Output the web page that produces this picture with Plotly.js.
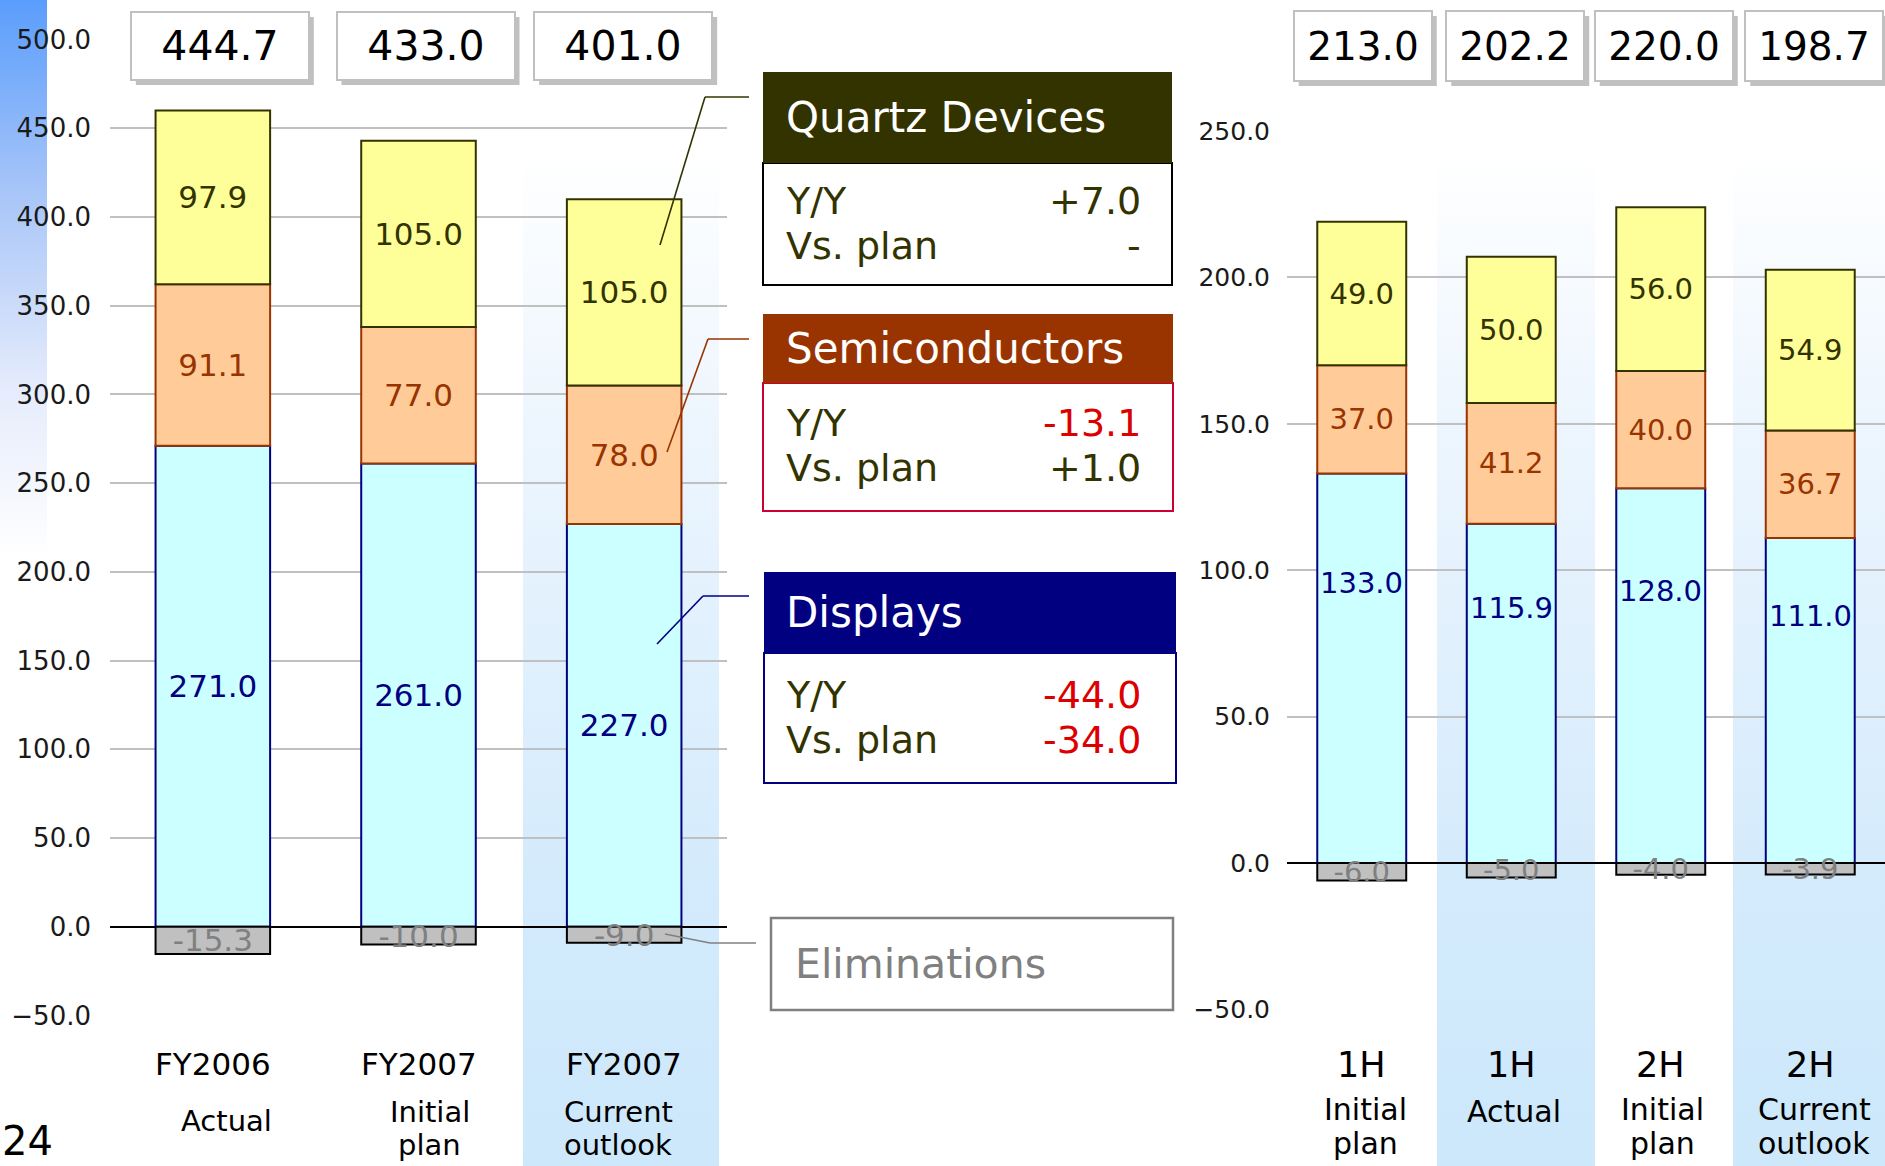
<!DOCTYPE html>
<html>
<head>
<meta charset="utf-8">
<script src="https://cdn.plot.ly/plotly-3.0.1.min.js"></script>
<style>html,body{margin:0;padding:0;background:#fff;}#chart{width:1885px;height:1166px;}</style>
</head>
<body>
<div id="chart"></div>
<script>
// ---------- data ----------
const leftCats = ['FY2006 Actual', 'FY2007 Initial plan', 'FY2007 Current outlook'];
const leftTop = ['FY2006', 'FY2007', 'FY2007'];
const leftSub = ['Actual', 'Initial<br>plan', 'Current<br>outlook'];
const leftDisplays = [271.0, 261.0, 227.0];
const leftSemis = [91.1, 77.0, 78.0];
const leftQuartz = [97.9, 105.0, 105.0];
const leftElim = [-15.3, -10.0, -9.0];
const leftTotals = [444.7, 433.0, 401.0];

const rightCats = ['1H Initial plan', '1H Actual', '2H Initial plan', '2H Current outlook'];
const rightTop = ['1H', '1H', '2H', '2H'];
const rightSub = ['Initial<br>plan', 'Actual', 'Initial<br>plan', 'Current<br>outlook'];
const rightDisplays = [133.0, 115.9, 128.0, 111.0];
const rightSemis = [37.0, 41.2, 40.0, 36.7];
const rightQuartz = [49.0, 50.0, 56.0, 54.9];
const rightElim = [-6.0, -5.0, -4.0, -3.9];
const rightTotals = [213.0, 202.2, 220.0, 198.7];

const panelNames = ['Quartz Devices', 'Semiconductors', 'Displays'];
const panelYoY = ['+7.0', '-13.1', '-44.0'];
const panelVsPlan = ['-', '+1.0', '-34.0'];
const rowLabels = ['Y/Y', 'Vs. plan'];
const elimLabel = 'Eliminations';
const pageNumber = '24';

// ---------- styling ----------
const W = 1885, H = 1166;
const X = p => p / W;
const Y = p => 1 - p / H;
const F = 'DejaVu Sans, Verdana, sans-serif';
const PF = 'DejaVu Sans, Verdana, sans-serif';
const C = {
  disp: {fill: '#ccffff', line: '#000080', text: '#000080'},
  semi: {fill: '#ffcc99', line: '#993300', text: '#993300'},
  quartz: {fill: '#ffff99', line: '#333300', text: '#333300'},
  elim: {fill: '#c0c0c0', line: '#000000', text: '#808080'}
};
const fmt = a => a.map(v => v.toFixed(1));

function barTrace(cats, vals, st, xa, ya, w, fs, showText) {
  return {
    type: 'bar', x: cats, y: vals, xaxis: xa, yaxis: ya, width: w,
    marker: {color: st.fill, line: {color: st.line, width: 2}},
    text: fmt(vals), textposition: showText ? 'inside' : 'none',
    insidetextanchor: 'middle', constraintext: 'none', textangle: 0,
    textfont: {family: F, size: fs, color: st.text},
    insidetextfont: {family: F, size: fs, color: st.text},
    cliponaxis: false, hoverinfo: 'skip'
  };
}

const traces = [
  barTrace(leftCats, leftDisplays, C.disp, 'x', 'y', 0.557, 31, true),
  barTrace(leftCats, leftSemis, C.semi, 'x', 'y', 0.557, 31, true),
  barTrace(leftCats, leftQuartz, C.quartz, 'x', 'y', 0.557, 31, true),
  barTrace(leftCats, leftElim, C.elim, 'x', 'y', 0.557, 31, true),
  barTrace(rightCats, rightDisplays, C.disp, 'x2', 'y2', 0.595, 29, false),
  barTrace(rightCats, rightSemis, C.semi, 'x2', 'y2', 0.595, 29, true),
  barTrace(rightCats, rightQuartz, C.quartz, 'x2', 'y2', 0.595, 29, true),
  barTrace(rightCats, rightElim, C.elim, 'x2', 'y2', 0.595, 29, true)
];

// gradients as images
function gradSrc(stops) {
  const s = stops.map(st => `<stop offset="${st[0]}" stop-color="${st[1]}"/>`).join('');
  const svg = `<svg xmlns="http://www.w3.org/2000/svg" width="100" height="100" viewBox="0 0 100 100" preserveAspectRatio="none"><defs><linearGradient id="g" x1="0" y1="0" x2="0" y2="1">${s}</linearGradient></defs><rect x="0" y="0" width="100" height="100" fill="url(#g)"/></svg>`;
  return 'data:image/svg+xml;charset=utf-8,' + encodeURIComponent(svg);
}
const hiGrad = gradSrc([[0, '#ffffff'], [0.25, '#eef6fe'], [0.75, '#d2eafc'], [1, '#cde8fb']]);
const stripGrad = gradSrc([[0, '#5a9dfc'], [0.35, '#a9c6f8'], [0.7, '#e6ecfc'], [1, '#ffffff']]);
function img(src, x0, x1, y0, y1) {
  return {source: src, xref: 'paper', yref: 'paper', x: X(x0), y: Y(y0),
    sizex: X(x1) - X(x0), sizey: (y1 - y0) / H, xanchor: 'left', yanchor: 'top',
    sizing: 'stretch', layer: 'below'};
}
const images = [
  img(stripGrad, 0, 47, 0, 560),
  img(hiGrad, 523, 719, 150, 1166),
  img(hiGrad, 1437, 1595, 150, 1166),
  img(hiGrad, 1733, 1885, 150, 1166)
];

const annotations = [];
const shapes = [];

// total boxes (shadow as shape, box as annotation)
function totals(cats, vals, xa, w, h, fs, shifts) {
  cats.forEach((c, i) => {
    const s = shifts[i];
    shapes.push({type: 'rect', xref: xa, yref: 'paper', xsizemode: 'pixel', xanchor: i,
      x0: s - w / 2 - 1 + 5, x1: s + w / 2 + 1 + 5, y0: Y(46 + h / 2 + 1 + 5), y1: Y(46 - h / 2 - 1 + 5),
      fillcolor: '#c0c0c0', line: {width: 0}, layer: 'above'});
    annotations.push({xref: xa, yref: 'paper', x: i, y: Y(46), yanchor: 'middle', xanchor: 'center',
      xshift: s, text: vals[i].toFixed(1), showarrow: false, width: w, height: h, borderpad: 0,
      bgcolor: '#ffffff', bordercolor: '#c0c0c0', borderwidth: 2,
      font: {family: F, size: fs, color: '#000000'}});
  });
}
totals(leftCats, leftTotals, 'x', 176, 66, 41, [7, 7, -1]);
totals(rightCats, rightTotals, 'x2', 136, 68, 39, [1, 4, 3, 4]);

// category labels
function catLabels(cats, tops, subs, xa, topY, topSize, subSize, oneY, twoY, shifts) {
  cats.forEach((c, i) => {
    annotations.push({xref: xa, yref: 'paper', x: i, y: Y(topY), yanchor: 'middle', showarrow: false,
      text: tops[i], font: {family: F, size: topSize, color: '#000'}});
    const lines = subs[i].split('<br>');
    const ys = lines.length === 1 ? [oneY] : twoY;
    lines.forEach((ln, k) => {
      annotations.push({xref: xa, yref: 'paper', x: i, y: Y(ys[k]), yanchor: 'middle', showarrow: false,
        xshift: shifts ? shifts[i] : 0, text: ln, font: {family: F, size: subSize, color: '#000'}});
    });
  });
}
catLabels(leftCats, leftTop, leftSub, 'x', 1064, 31, 29, 1121, [1112, 1145], [14, 11, -6]);
catLabels(rightCats, rightTop, rightSub, 'x2', 1065, 35, 30, 1111, [1109, 1143], [4, 3, 2, 4]);

// right displays labels (placed in the upper part of the segment)
rightCats.forEach((c, i) => {
  annotations.push({xref: 'x2', yref: 'y2', x: i, y: rightDisplays[i] / 2 + 29, yanchor: 'middle', showarrow: false,
    text: rightDisplays[i].toFixed(1), font: {family: F, size: 29, color: C.disp.text}});
});

// panels
const panels = [
  {hdr: [763, 1172, 72, 163], body: [763, 1172, 163, 285], hc: '#333300', bc: '#000000', ht: 117, r1: 201, r2: 246},
  {hdr: [763, 1173, 314, 383], body: [763, 1173, 383, 511], hc: '#993300', bc: '#cc0033', ht: 349, r1: 423, r2: 468},
  {hdr: [764, 1176, 572, 653], body: [764, 1176, 653, 783], hc: '#000080', bc: '#000080', ht: 612, r1: 695, r2: 740}
];
function rect(b, fill, line, lw) {
  return {type: 'rect', xref: 'paper', yref: 'paper', x0: X(b[0]), x1: X(b[1]), y0: Y(b[2]), y1: Y(b[3]),
    fillcolor: fill, line: {color: line, width: lw}, layer: 'above'};
}
const valColor = s => s.startsWith('-') && s.length > 1 ? '#dd0000' : '#333300';
panels.forEach((p, i) => {
  shapes.push(rect(p.body, '#ffffff', p.bc, 2));
  shapes.push(rect(p.hdr, p.hc, p.hc, 0));
  annotations.push({xref: 'paper', yref: 'paper', x: X(784), y: Y(p.ht), xanchor: 'left', yanchor: 'middle',
    showarrow: false, text: panelNames[i], font: {family: PF, size: 42, color: '#ffffff'}});
  annotations.push({xref: 'paper', yref: 'paper', x: X(784), y: Y(p.r1), xanchor: 'left', yanchor: 'middle',
    showarrow: false, text: rowLabels[0], font: {family: PF, size: 38, color: '#333300'}});
  annotations.push({xref: 'paper', yref: 'paper', x: X(784), y: Y(p.r2), xanchor: 'left', yanchor: 'middle',
    showarrow: false, text: rowLabels[1], font: {family: PF, size: 38, color: '#333300'}});
  annotations.push({xref: 'paper', yref: 'paper', x: X(1143), y: Y(p.r1), xanchor: 'right', yanchor: 'middle',
    showarrow: false, text: panelYoY[i], font: {family: PF, size: 38, color: valColor(panelYoY[i])}});
  annotations.push({xref: 'paper', yref: 'paper', x: X(1143), y: Y(p.r2), xanchor: 'right', yanchor: 'middle',
    showarrow: false, text: panelVsPlan[i], font: {family: PF, size: 38, color: valColor(panelVsPlan[i])}});
});
shapes.push(rect([771, 1173, 918, 1010], '#ffffff', '#808080', 2.5));
annotations.push({xref: 'paper', yref: 'paper', x: X(793), y: Y(964), xanchor: 'left', yanchor: 'middle',
  showarrow: false, text: elimLabel, font: {family: PF, size: 41, color: '#808080'}});

// leader lines
function seg(a, b, c, col) {
  shapes.push({type: 'line', xref: 'paper', yref: 'paper', x0: X(a[0]), y0: Y(a[1]), x1: X(b[0]), y1: Y(b[1]),
    line: {color: col, width: 1.6}, layer: 'above'});
  shapes.push({type: 'line', xref: 'paper', yref: 'paper', x0: X(b[0]), y0: Y(b[1]), x1: X(c[0]), y1: Y(c[1]),
    line: {color: col, width: 1.6}, layer: 'above'});
}
seg([660, 245], [705, 97], [749, 97], '#333300');
seg([667, 452], [708, 339], [749, 339], '#993300');
seg([657, 644], [703, 596], [749, 596], '#000080');
seg([665, 934], [710, 943], [756, 943], '#808080');

// page number
annotations.push({xref: 'paper', yref: 'paper', x: 0, y: 0, xanchor: 'left', yanchor: 'bottom', yshift: 0,
  showarrow: false, text: pageNumber, font: {family: F, size: 40, color: '#000'}});

const yCommon = {
  dtick: 50, tick0: 0, tickformat: '.1f', showgrid: true, gridcolor: '#c0c0c0', gridwidth: 2,
  zeroline: true, zerolinecolor: '#000000', zerolinewidth: 2, showline: false, ticks: '',
  fixedrange: true
};
const xCommon = {type: 'category', showticklabels: false, showgrid: false, zeroline: false,
  showline: false, ticks: '', fixedrange: true};

const layout = {
  width: W, height: H,
  margin: {l: 0, r: 0, t: 0, b: 0, pad: 0},
  paper_bgcolor: '#ffffff', plot_bgcolor: 'rgba(0,0,0,0)',
  barmode: 'relative', showlegend: false,
  font: {family: F},
  xaxis: Object.assign({}, xCommon, {domain: [110 / W, 727 / W], anchor: 'y', range: [-0.5, 2.5]}),
  yaxis: Object.assign({}, yCommon, {domain: [1 - 1015.5 / H, 1 - 39.5 / H], anchor: 'x',
    range: [-50.01, 500.01], tickfont: {family: F, size: 26, color: '#1a1a1a'}, ticklabelstandoff: 18}),
  xaxis2: Object.assign({}, xCommon, {domain: [1287 / W, 1], anchor: 'y2', range: [-0.5, 3.5]}),
  yaxis2: Object.assign({}, yCommon, {domain: [1 - 1009.4 / H, 1 - 131 / H], anchor: 'x2',
    range: [-50.01, 250.01], tickfont: {family: F, size: 25, color: '#1a1a1a'}, ticklabelstandoff: 16}),
  images: images,
  shapes: shapes,
  annotations: annotations
};

Plotly.newPlot('chart', traces, layout, {staticPlot: true, displayModeBar: false});
</script>
</body>
</html>
